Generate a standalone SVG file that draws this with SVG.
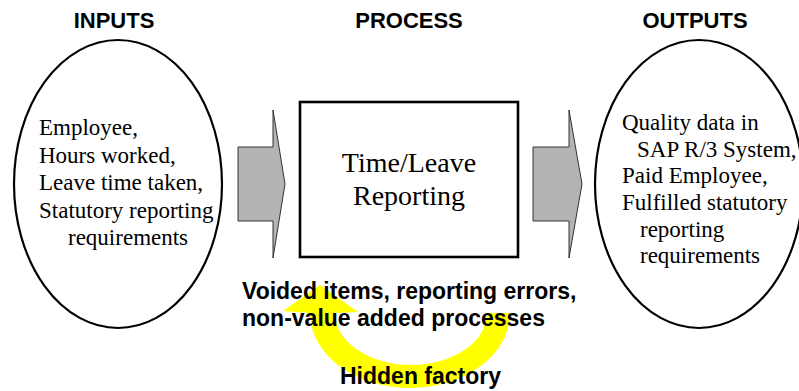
<svg xmlns="http://www.w3.org/2000/svg" width="799" height="391" viewBox="0 0 799 391">
<style>
.hdr{font-family:"Liberation Sans",Arial,sans-serif;font-weight:bold;font-size:22px;fill:#000;text-anchor:middle}
.lbl{font-family:"Liberation Sans",Arial,sans-serif;font-weight:bold;font-size:23px;fill:#000}
.ser{font-family:"Liberation Serif","Times New Roman",serif;font-size:23px;fill:#000}
.big{font-family:"Liberation Serif","Times New Roman",serif;font-size:28px;fill:#000;text-anchor:middle}
.ell{fill:#fff;stroke:#000;stroke-width:2.2}
.arr{fill:#b3b3b3;stroke:#333;stroke-width:1}
</style>
<rect width="799" height="391" fill="#fff"/>
<text class="hdr" x="114" y="28">INPUTS</text>
<text class="hdr" x="409" y="28">PROCESS</text>
<text class="hdr" x="695" y="28">OUTPUTS</text>
<g id="inputs">
<ellipse class="ell" cx="118" cy="184" rx="104" ry="144"/>
<text class="ser"><tspan x="39" y="135">Employee,</tspan><tspan x="39" y="163">Hours worked,</tspan><tspan x="39" y="190">Leave time taken,</tspan><tspan x="39" y="218">Statutory reporting</tspan><tspan x="68" y="245">requirements</tspan></text>
</g>
<g id="process">
<rect x="300" y="102" width="218" height="155" fill="#fff" stroke="#000" stroke-width="2.6"/>
<text class="big" x="409" y="172">Time/Leave</text>
<text class="big" x="409" y="205">Reporting</text>
</g>
<g id="outputs">
<ellipse class="ell" cx="699" cy="184" rx="104" ry="144"/>
<text class="ser"><tspan x="622" y="130">Quality data in</tspan><tspan x="637" y="157">SAP R/3 System,</tspan><tspan x="622" y="183">Paid Employee,</tspan><tspan x="622" y="210">Fulfilled statutory</tspan><tspan x="640" y="237">reporting</tspan><tspan x="640" y="263">requirements</tspan></text>
</g>
<g id="connectors">
<polygon class="arr" points="238,147 273,147 273,110 285,184 273,258 273,221 238,221"/>
<polygon class="arr" points="533,147 569,147 569,110 582,184 569,258 569,221 533,221"/>
</g>
<g id="hidden-factory">
<path d="M487 313 L510 313 A100 75 0 0 1 310 313 L283 311 L320 285 L358 312 L335 313 A76 52 0 0 0 487 313 Z" fill="#ffff00"/>
<text class="lbl" x="242" y="299">Voided items, reporting errors,</text>
<text class="lbl" x="242" y="326">non-value added processes</text>
<text class="lbl" x="340" y="384">Hidden factory</text>
</g>
</svg>
